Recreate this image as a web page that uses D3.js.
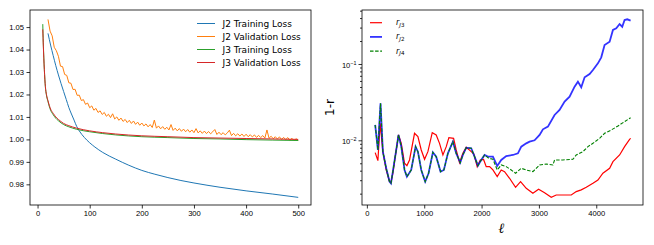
<!DOCTYPE html>
<html>
<head>
<meta charset="utf-8">
<script src="https://cdn.jsdelivr.net/npm/d3@7/dist/d3.min.js"></script>
<style>
body { margin: 0; background: #fff; }
svg { font-family: "DejaVu Sans", sans-serif; }
.tick text { font-size: 7.6px; fill: #000; }
.domain { display: none; }
.tick line { stroke: #000; stroke-width: 0.8; }
</style>
</head>
<body>
<div id="chart"></div>
<script>
// ---- left panel: loss curves ----
const j2TrainEpochs = [20, 25, 30, 35, 40, 45, 50, 55, 60, 65, 70, 75, 80, 90, 100, 110, 125, 150, 175, 200, 225, 250, 275, 300, 350, 400, 450, 500];
const j2Train = [1.0472, 1.0420, 1.0373, 1.0328, 1.0287, 1.0249, 1.0213, 1.0178, 1.0142, 1.0113, 1.0086, 1.0058, 1.0038, 1.0008, 0.9985, 0.9966, 0.9942, 0.9912, 0.9885, 0.9862, 0.9845, 0.9830, 0.9817, 0.9806, 0.9787, 0.9771, 0.9757, 0.9742];

// validation loss read every 4 epochs from 20 to 500
const j2ValEpochs = d3.range(20, 501, 4);
const j2Val = [
  1.0534, 1.0482, 1.0461, 1.0410, 1.0395, 1.0370, 1.0326, 1.0324, 1.0289, 1.0285,
  1.0252, 1.0250, 1.0222, 1.0223, 1.0196, 1.0197, 1.0173, 1.0177, 1.0156, 1.0162,
  1.0141, 1.0149, 1.0130, 1.0138, 1.0120, 1.0127, 1.0111, 1.0120, 1.0103, 1.0112,
  1.0097, 1.0114, 1.0091, 1.0100, 1.0085, 1.0095, 1.0080, 1.0089, 1.0075, 1.0085,
  1.0071, 1.0082, 1.0067, 1.0077, 1.0063,
  1.0073, 1.0060, 1.0069, 1.0056, 1.0066, 1.0053, 1.0086, 1.0050, 1.0060, 1.0047,
  1.0057, 1.0045, 1.0054, 1.0042, 1.0066, 1.0040, 1.0050, 1.0038, 1.0048, 1.0036,
  1.0046, 1.0034, 1.0044, 1.0032, 1.0042,
  1.0030, 1.0048, 1.0029, 1.0038, 1.0027, 1.0037, 1.0026, 1.0035, 1.0025, 1.0034,
  1.0044, 1.0022, 1.0032, 1.0021, 1.0030, 1.0020, 1.0029, 1.0041, 1.0017, 1.0027,
  1.0016, 1.0025, 1.0015, 1.0024, 1.0013,
  1.0023, 1.0012, 1.0021, 1.0011, 1.0020, 1.0009, 1.0018, 1.0008, 1.0017, 1.0006,
  1.0042, 1.0005, 1.0014, 1.0003, 1.0012, 1.0002, 1.0011, 1.0000, 1.0009, 0.9999,
  1.0008, 0.9996, 1.0005, 0.9995, 1.0003, 0.9996
];

const j3Epochs = [10, 11, 12, 13, 14, 15, 17, 20, 25, 30, 35, 40, 50, 60, 75, 100, 125, 150, 200, 250, 300, 350, 400, 450, 500];
const j3Train = [1.0513, 1.0430, 1.0365, 1.0312, 1.0268, 1.0234, 1.0198, 1.0168, 1.0130, 1.0110, 1.0094, 1.0083, 1.0066, 1.0056, 1.0045, 1.0034, 1.0026, 1.0020, 1.0012, 1.0008, 1.0004, 1.0002, 0.9999, 0.9997, 0.9995];
const j3Val = [1.0490, 1.0420, 1.0360, 1.0310, 1.0268, 1.0235, 1.0200, 1.0172, 1.0135, 1.0116, 1.0100, 1.0089, 1.0071, 1.0061, 1.0050, 1.0038, 1.0030, 1.0024, 1.0016, 1.0012, 1.0008, 1.0006, 1.0004, 1.0002, 1.0000];

const lossTicksX = [0, 100, 200, 300, 400, 500];
const lossTicksY = [0.98, 0.99, 1.00, 1.01, 1.02, 1.03, 1.04, 1.05];

// ---- right panel: 1-r against multipole ----
const ellJ3 = [145, 192, 232, 279, 337, 395, 420, 453, 512, 552, 600, 657, 698, 744, 831, 890, 948, 1006, 1064, 1140, 1209, 1267, 1326, 1384, 1430, 1512, 1558, 1616, 1674, 1733, 1820, 1866, 1924, 1977, 2035, 2081, 2140, 2198, 2273, 2343, 2401, 2488, 2593, 2680, 2779, 2895, 2994, 3099, 3215, 3302, 3419, 3564, 3651, 3738, 3826, 3942, 4029, 4116, 4233, 4291, 4407, 4494, 4581, 4600];
const rJ3 = [0.00689, 0.00542, 0.0167, 0.0071, 0.00409, 0.00287, 0.0028, 0.0037, 0.00747, 0.01175, 0.00913, 0.0050, 0.00466, 0.00553, 0.01235, 0.01117, 0.00747, 0.00564, 0.0071, 0.0126, 0.01175, 0.00913, 0.00642, 0.00826, 0.01084, 0.01062, 0.00747, 0.0051, 0.00675, 0.0081, 0.0071, 0.00662, 0.00452, 0.00553, 0.0056, 0.00452, 0.00452, 0.00409, 0.00334, 0.00409, 0.00389, 0.00318, 0.00242, 0.00287, 0.00235, 0.00202, 0.00228, 0.00206, 0.00179, 0.00192, 0.00192, 0.00192, 0.00213, 0.00224, 0.00242, 0.00273, 0.00302, 0.0037, 0.0043, 0.00525, 0.00642, 0.00826, 0.0103, 0.0106];

const ellJ2 = [145, 192, 238, 279, 337, 395, 420, 453, 512, 552, 600, 657, 698, 773, 849, 890, 948, 1017, 1076, 1151, 1209, 1285, 1343, 1413, 1500, 1558, 1628, 1674, 1733, 1820, 1878, 1936, 1994, 2052, 2110, 2198, 2273, 2343, 2430, 2547, 2634, 2692, 2779, 2837, 2924, 3012, 3070, 3157, 3273, 3360, 3448, 3535, 3622, 3680, 3738, 3797, 3884, 3942, 4029, 4087, 4145, 4233, 4291, 4349, 4407, 4453, 4494, 4541, 4599];
const rJ2 = [0.0159, 0.00747, 0.0305, 0.0071, 0.0043, 0.00287, 0.00273, 0.00389, 0.00747, 0.01175, 0.00826, 0.00409, 0.00334, 0.00409, 0.00826, 0.0071, 0.00409, 0.00287, 0.0037, 0.00696, 0.00611, 0.00389, 0.00409, 0.00675, 0.0096, 0.00675, 0.0051, 0.00642, 0.00801, 0.00786, 0.00611, 0.00466, 0.00553, 0.00642, 0.00611, 0.00611, 0.00461, 0.00553, 0.00623, 0.00642, 0.00675, 0.00826, 0.00913, 0.0096, 0.0100, 0.01175, 0.01393, 0.0151, 0.0215, 0.0250, 0.0321, 0.0373, 0.0505, 0.0587, 0.0495, 0.0669, 0.0740, 0.0835, 0.102, 0.1223, 0.1774, 0.196, 0.279, 0.293, 0.334, 0.308, 0.377, 0.385, 0.3695];

const ellJ4 = [145, 192, 238, 279, 337, 395, 420, 453, 512, 552, 600, 657, 698, 773, 849, 890, 948, 1017, 1076, 1151, 1209, 1285, 1343, 1413, 1500, 1558, 1628, 1674, 1733, 1820, 1878, 1936, 1994, 2052, 2128, 2198, 2273, 2343, 2430, 2517, 2593, 2692, 2779, 2895, 3012, 3128, 3244, 3273, 3419, 3593, 3651, 3767, 3855, 3942, 4058, 4145, 4262, 4378, 4494, 4599];
const rJ4 = [0.0159, 0.00747, 0.0305, 0.0071, 0.0043, 0.00287, 0.00273, 0.00389, 0.00747, 0.01175, 0.00826, 0.00409, 0.00334, 0.00409, 0.00826, 0.0071, 0.00409, 0.00287, 0.0037, 0.00696, 0.00611, 0.00389, 0.00409, 0.00675, 0.0096, 0.00675, 0.0051, 0.00642, 0.00801, 0.00786, 0.00611, 0.00466, 0.00553, 0.00642, 0.00581, 0.00564, 0.00409, 0.00475, 0.00452, 0.00409, 0.0037, 0.0043, 0.00409, 0.00389, 0.00475, 0.0049, 0.00475, 0.00553, 0.00553, 0.00564, 0.00642, 0.0071, 0.00826, 0.00913, 0.01062, 0.01235, 0.01366, 0.01541, 0.01756, 0.0198];

const ellTicks = [0, 1000, 2000, 3000, 4000];
const majorR = [0.01, 0.1];
const minorR = [0.002, 0.003, 0.004, 0.005, 0.006, 0.007, 0.008, 0.009, 0.02, 0.03, 0.04, 0.05, 0.06, 0.07, 0.08, 0.09, 0.2, 0.3, 0.4, 0.5];

const width = 654, height = 245;
const svg = d3.select('#chart').append('svg')
    .attr('width', width)
    .attr('height', height);

// ================= left panel =================
const L = { x0: 30, x1: 311, y0: 10, y1: 205 };
const xL = d3.scaleLinear().domain([-14.5, 524.5]).range([L.x0, L.x1]);
const yL = d3.scaleLinear().domain([0.9708, 1.0576]).range([L.y1, L.y0]);

const left = svg.append('g');

left.append('g')
    .attr('transform', `translate(0,${L.y1})`)
    .call(d3.axisBottom(xL).tickValues(lossTicksX).tickSize(3.5).tickPadding(2.5).tickFormat(d3.format('d')));
left.append('g')
    .attr('transform', `translate(${L.x0},0)`)
    .call(d3.axisLeft(yL).tickValues(lossTicksY).tickSize(3.5).tickPadding(2.5).tickFormat(d3.format('.2f')));

const lossLine = (xs, curve) => d3.line()
    .x((d, i) => xL(xs[i]))
    .y(d => yL(d))
    .curve(curve);

const lossSeries = [
    { label: 'J2 Training Loss', xs: j2TrainEpochs, ys: j2Train, color: '#1f77b4', curve: d3.curveMonotoneX },
    { label: 'J2 Validation Loss', xs: j2ValEpochs, ys: j2Val, color: '#ff7f0e', curve: d3.curveLinear },
    { label: 'J3 Training Loss', xs: j3Epochs, ys: j3Train, color: '#2ca02c', curve: d3.curveMonotoneX },
    { label: 'J3 Validation Loss', xs: j3Epochs, ys: j3Val, color: '#d62728', curve: d3.curveMonotoneX }
];

lossSeries.forEach(s => {
    left.append('path')
        .datum(s.ys)
        .attr('fill', 'none')
        .attr('stroke', s.color)
        .attr('stroke-width', 1)
        .attr('d', lossLine(s.xs, s.curve));
});

left.append('rect')
    .attr('x', L.x0).attr('y', L.y0)
    .attr('width', L.x1 - L.x0).attr('height', L.y1 - L.y0)
    .attr('fill', 'none').attr('stroke', '#000').attr('stroke-width', 0.8);

// legend
const legL = left.append('g').attr('transform', 'translate(197,23.5)');
lossSeries.forEach((s, i) => {
    const g = legL.append('g').attr('transform', `translate(0,${i * 13})`);
    g.append('line').attr('x1', 0).attr('x2', 18).attr('stroke', s.color).attr('stroke-width', 1);
    g.append('text').attr('x', 25.5).attr('dy', '0.35em')
        .style('font-size', '9px').text(s.label);
});

// ================= right panel =================
const R = { x0: 362, x1: 643, y0: 10, y1: 205 };
const xR = d3.scaleLinear().domain([-85, 4815]).range([R.x0, R.x1]);
const yR = d3.scaleLog().domain([0.00142, 0.51]).range([R.y1, R.y0]);

const right = svg.append('g');

right.append('g')
    .attr('transform', `translate(0,${R.y1})`)
    .call(d3.axisBottom(xR).tickValues(ellTicks).tickSize(3.5).tickPadding(2.5).tickFormat(d3.format('d')));

right.append('g')
    .attr('transform', `translate(${R.x0},0)`)
    .call(d3.axisLeft(yR).tickValues(minorR).tickSize(2).tickFormat(''))
    .selectAll('.tick line').attr('stroke-width', 0.6);

const majorAxis = right.append('g')
    .attr('transform', `translate(${R.x0},0)`)
    .call(d3.axisLeft(yR).tickValues(majorR).tickSize(3.5).tickFormat(''));

majorAxis.selectAll('.tick').each(function (d) {
    const t = d3.select(this).append('text')
        .attr('x', -5.5).attr('dy', '0.45em')
        .attr('text-anchor', 'end')
        .style('fill', '#000');
    t.append('tspan').text('10');
    t.append('tspan').attr('dy', '-0.55em').style('font-size', '5.4px')
        .text('\u2212' + Math.round(-Math.log10(d)));
});

const rLine = xs => d3.line()
    .x((d, i) => xR(xs[i]))
    .y(d => yR(d));

const rSeries = [
    { key: 'J3', xs: ellJ3, ys: rJ3, color: '#ff0000', width: 1.2, dash: null, opacity: 1 },
    { key: 'J2', xs: ellJ2, ys: rJ2, color: '#0000ff', width: 1.8, dash: null, opacity: 0.8 },
    { key: 'J4', xs: ellJ4, ys: rJ4, color: '#008000', width: 1.1, dash: '3.5,1.6', opacity: 1 }
];

rSeries.forEach(s => {
    right.append('path')
        .datum(s.ys)
        .attr('fill', 'none')
        .attr('stroke', s.color)
        .attr('stroke-width', s.width)
        .attr('stroke-opacity', s.opacity)
        .attr('stroke-dasharray', s.dash)
        .attr('d', rLine(s.xs));
});

right.append('rect')
    .attr('x', R.x0).attr('y', R.y0)
    .attr('width', R.x1 - R.x0).attr('height', R.y1 - R.y0)
    .attr('fill', 'none').attr('stroke', '#000').attr('stroke-width', 0.8);

// legend
const legR = right.append('g').attr('transform', 'translate(370,22.7)');
rSeries.forEach((s, i) => {
    const g = legR.append('g').attr('transform', `translate(0,${i * 14.2})`);
    g.append('line').attr('x1', 0).attr('x2', 12)
        .attr('stroke', s.color).attr('stroke-width', s.width)
        .attr('stroke-opacity', s.opacity).attr('stroke-dasharray', s.dash);
    const t = g.append('text').attr('x', 26).attr('dy', '0.3em').style('font-size', '8px');
    t.append('tspan').style('font-style', 'italic').text('r');
    const sub = t.append('tspan').attr('dy', '0.3em').style('font-size', '5.6px');
    sub.append('tspan').style('font-style', 'italic').text('J');
    sub.append('tspan').text(s.key.slice(1));
});

// axis labels
svg.append('text')
    .attr('transform', `translate(334,${(R.y0 + R.y1) / 2}) rotate(-90)`)
    .attr('text-anchor', 'middle')
    .style('font-size', '12px')
    .text('1-r');

svg.append('text')
    .attr('x', (R.x0 + R.x1) / 2 - 1).attr('y', 233)
    .attr('text-anchor', 'middle')
    .style('font-size', '14px')
    .style('font-style', 'italic')
    .style('font-family', '"DejaVu Serif", serif')
    .text('\u2113');
</script>
</body>
</html>
